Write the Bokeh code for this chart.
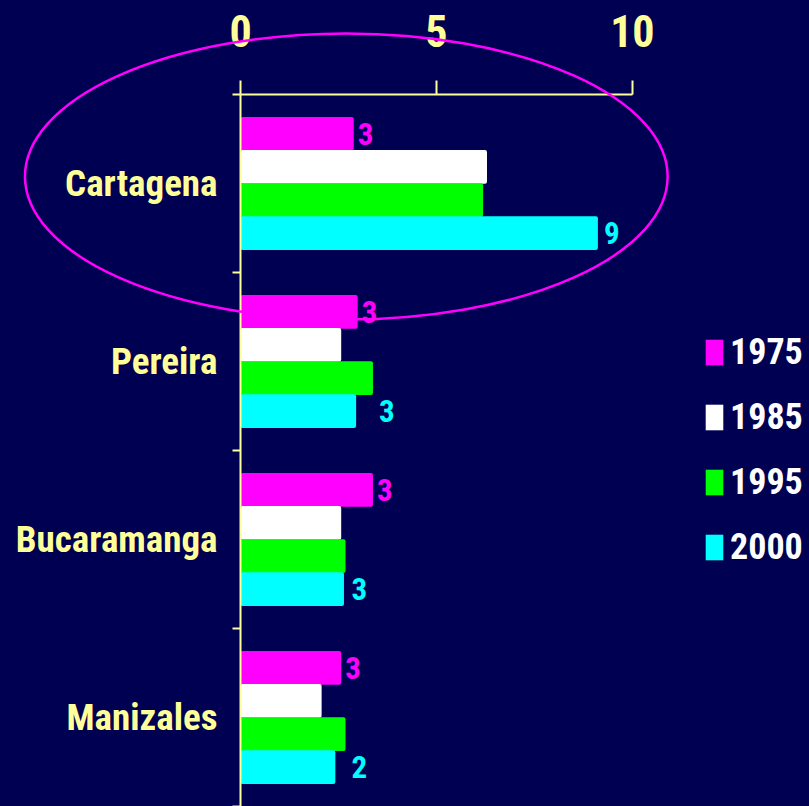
import numpy as np
from bokeh.plotting import figure
from bokeh.models import (Range1d, FixedTicker, Legend, LegendItem, ColumnDataSource)
from bokeh.core.properties import value
from bokeh.embed import file_html
from bokeh.resources import INLINE

# ---------------- data ----------------
cities = ["Cartagena", "Pereira", "Bucaramanga", "Manizales"]
years = ["1975", "1985", "1995", "2000"]
v1975 = [2.89, 2.99, 3.38, 2.57]
v1985 = [6.29, 2.57, 2.57, 2.07]
v1995 = [6.19, 3.38, 2.68, 2.68]
v2000 = [9.12, 2.95, 2.64, 2.42]
x_ticks = [0, 5, 10]

# ---------------- style ----------------
BG = "#000052"
YEL = "#FFFF99"
colors = ["#FF00FF", "#FFFFFF", "#00FF00", "#00FFFF"]
FONT = "'Roboto Condensed', Roboto, sans-serif"

p = figure(width=809, height=806,
           x_range=Range1d(0, 14.52), y_range=Range1d(4, 0),
           x_axis_location="above",
           output_backend="svg", toolbar_location=None,
           min_border_left=240, min_border_top=94,
           min_border_right=0, min_border_bottom=0,
           background_fill_color=BG, border_fill_color=BG,
           outline_line_color=None)
p.styles = {"background-color": BG}
p.xgrid.visible = False
p.ygrid.visible = False

centers = [i + 0.5 for i in range(len(cities))]
step = 0.186
bar_h = 0.19

series = [v1975, v1985, v1995, v2000]
renderers = []
for k, (vals, col) in enumerate(zip(series, colors)):
    off = (k - 1.5) * step
    src = ColumnDataSource(dict(y=[c + off for c in centers], right=vals))
    r = p.hbar(y="y", left=0, right="right", height=bar_h, source=src,
               fill_color=col, line_color=None, border_radius=2)
    renderers.append(r)

# value labels
lab_a = ColumnDataSource(dict(
    x=v1975, y=[c - 1.5 * step for c in centers],
    t=[str(int(v + 0.5)) for v in v1975]))
p.text(x="x", y="y", text="t", source=lab_a, x_offset=4,
       text_align="left", text_baseline="middle",
       text_font=value(FONT), text_font_style="bold",
       text_font_size="31px", text_color=colors[0])

lab_d = ColumnDataSource(dict(
    x=[max(a, b) for a, b in zip(v1995, v2000)],
    y=[c + 1.5 * step for c in centers],
    t=[str(int(v + 0.5)) for v in v2000]))
p.text(x="x", y="y", text="t", source=lab_d, x_offset=6,
       text_align="left", text_baseline="middle",
       text_font=value(FONT), text_font_style="bold",
       text_font_size="31px", text_color=colors[3])

# highlight ellipse around Cartagena (overlay level so it is not clipped)
p.ellipse(x=[2.70], y=[0.461], width=[16.4], height=[1.607],
          fill_color=None, line_color="#FF00FF", line_width=2.5, level="overlay")

# x axis (top)
xa = p.xaxis[0]
xa.ticker = FixedTicker(ticks=x_ticks)
xa.bounds = (0, 10)
xa.axis_line_color = YEL
xa.axis_line_width = 2
xa.major_tick_line_color = YEL
xa.major_tick_line_width = 2
xa.major_tick_out = 14
xa.major_tick_in = 0
xa.minor_tick_line_color = None
xa.major_label_text_font = FONT
xa.major_label_text_font_style = "bold"
xa.major_label_text_font_size = "44px"
xa.major_label_text_color = YEL
xa.major_label_standoff = 34

# y axis (left)
ya = p.yaxis[0]
ya.ticker = FixedTicker(ticks=centers, minor_ticks=list(range(len(cities) + 1)))
ya.major_label_overrides = {c: name for c, name in zip(centers, cities)}
ya.axis_line_color = YEL
ya.axis_line_width = 2
ya.major_tick_line_color = None
ya.major_tick_out = 0
ya.major_tick_in = 0
ya.minor_tick_line_color = YEL
ya.minor_tick_line_width = 2
ya.minor_tick_out = 8
ya.minor_tick_in = 0
ya.major_label_text_font = FONT
ya.major_label_text_font_style = "bold"
ya.major_label_text_font_size = "37px"
ya.major_label_text_color = YEL
ya.major_label_standoff = 15

legend = Legend(items=[LegendItem(label=y, renderers=[r]) for y, r in zip(years, renderers)],
                location=(463, 238), orientation="vertical",
                glyph_width=22, glyph_height=32, label_height=32,
                label_text_font=FONT, label_text_font_style="bold",
                label_text_font_size="36px", label_text_color="white",
                label_standoff=5, spacing=23, padding=0, margin=0,
                background_fill_alpha=0, border_line_alpha=0)
p.add_layout(legend)

open("out.html", "w").write(file_html(p, INLINE))
